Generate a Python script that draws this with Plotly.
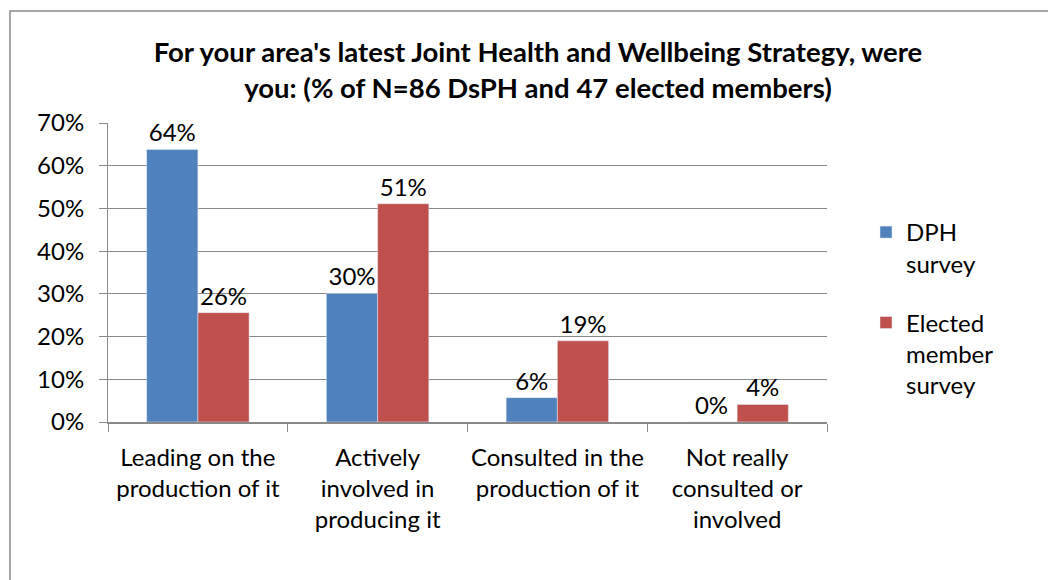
import plotly.graph_objects as go

categories = ["Leading on the<br>production of it", "Actively<br>involved in<br>producing it",
              "Consulted in the<br>production of it", "Not really<br>consulted or<br>involved"]
dph_values = [0.638, 0.301, 0.057, 0.0]
elected_values = [0.256, 0.511, 0.190, 0.041]
series_names = ["DPH<br>survey", "Elected<br>member<br>survey"]
title_text = ("For your area's latest Joint Health and Wellbeing Strategy, were<br>"
              "you: (% of N=86 DsPH and 47 elected members)")

FONT = "Lato"
GRID = "#898989"
OFF = 8  # page body margin
W, H = 1056 - OFF, 580 - OFF
L, R, T, B = 108 - OFF, 827 - OFF, 123 - OFF, 422 - OFF  # plot area pixel edges

def px_x(p):
    return (p - OFF - L) / (R - L)

def px_y(p):
    return (B - (p - OFF)) / (B - T)

fig = go.Figure()
fig.add_trace(go.Bar(x=categories, y=dph_values, name=series_names[0], marker_color="#4F81BD",
                     texttemplate="%{y:.0%}", textposition="outside", cliponaxis=False,
                     legendgroup="a", textfont=dict(size=24, color="#000000")))
fig.add_trace(go.Bar(x=categories, y=elected_values, name=series_names[1], marker_color="#C0504D",
                     texttemplate="%{y:.0%}", textposition="outside", cliponaxis=False,
                     legendgroup="b", textfont=dict(size=24, color="#000000")))

fig.update_layout(
    width=W, height=H,
    margin=dict(l=L, r=W - R, t=T, b=H - B, autoexpand=False),
    paper_bgcolor="white", plot_bgcolor="white",
    font=dict(family=FONT, size=24, color="#000000"),
    barmode="group", bargap=0.43, bargroupgap=0,
    title=dict(text=title_text, x=(538 - OFF) / W, xanchor="center", y=1 - (62 - OFF) / H,
               yanchor="middle",
               font=dict(family=FONT, size=27.5, color="#000000", weight="bold")),
    legend=dict(x=px_x(866), xanchor="left", y=px_y(210), yanchor="top", valign="top",
                traceorder="grouped", tracegroupgap=25, font=dict(size=24),
                bgcolor="rgba(0,0,0,0)"),
    showlegend=True,
)
fig.update_yaxes(range=[0, 0.7], dtick=0.1, tickformat=".0%", showgrid=True, gridcolor=GRID,
                 gridwidth=1, showline=True, linecolor=GRID, linewidth=1, ticks="outside",
                 ticklen=8, tickcolor=GRID, zeroline=False, ticklabelstandoff=10)
fig.update_xaxes(showline=True, linecolor=GRID, linewidth=1.5, ticks="outside", ticklen=8,
                 tickcolor=GRID, tickson="boundaries", showgrid=False, ticklabelstandoff=13,
                 tickangle=0, tickfont=dict(size=24))

# chart-area border
fig.add_shape(type="rect", xref="paper", yref="paper",
              x0=px_x(10), x1=px_x(1100), y0=px_y(640), y1=px_y(11),
              line=dict(color=GRID, width=1.5), fillcolor="rgba(0,0,0,0)", layer="below")

fig.write_html("out.html")
